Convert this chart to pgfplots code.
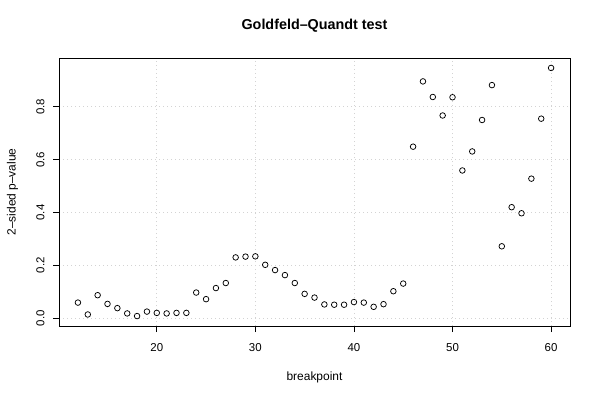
\documentclass[border=0pt]{standalone}
\usepackage{pgfplots}
\pgfplotsset{compat=1.18}
\usepackage{fontspec}
\setmainfont{Liberation Sans}
\definecolor{rgrid}{RGB}{211,211,211}
\begin{document}
\begin{tikzpicture}[x=1bp,y=1bp]
\path[use as bounding box] (0,0) rectangle (600,400);
\begin{axis}[
  at={(59bp,74bp)}, anchor=south west,
  scale only axis, width=511bp, height=268bp,
  xmin=10.08, xmax=61.92, ymin=-0.0296, ymax=0.9846,
  xtick={20,30,40,50,60},
  ytick={0,0.2,0.4,0.6,0.8},
  /pgf/number format/assume math mode=true,
  yticklabel style={rotate=90, anchor=south, /pgf/number format/fixed, /pgf/number format/fixed zerofill, /pgf/number format/precision=1},
  xticklabel style={anchor=north},
  ticklabel style={font=\fontsize{11.5}{13}\selectfont},
  xticklabel shift=8bp, yticklabel shift=5bp,
  tick align=outside, tick pos=left, major tick length=6bp,
  tick style={black, line width=0.8bp},
  axis line style={black, line width=0.8bp},
  grid=major, major grid style={rgrid, line width=0.8bp, dash pattern=on 1bp off 3bp},
  title={\bfseries Goldfeld–Quandt test},
  title style={at={(axis description cs:0.5,1)}, anchor=base, yshift=22.5bp, font=\fontsize{14.4}{17}\selectfont},
  xlabel={breakpoint},
  xlabel style={at={(axis description cs:0.5,0)}, anchor=base, yshift=-54bp, font=\fontsize{12}{14}\selectfont},
  ylabel={2–sided p–value},
  ylabel style={at={(axis description cs:0,0.5)}, anchor=base, yshift=43.5bp, font=\fontsize{12}{14}\selectfont},
]
\addplot[only marks, mark=o, mark size=2.8bp, mark options={line width=0.75bp, black}] coordinates {
(12,0.059) (13,0.014) (14,0.087) (15,0.054) (16,0.038) (17,0.018) (18,0.008)
(19,0.025) (20,0.020) (21,0.018) (22,0.020) (23,0.020) (24,0.097) (25,0.072)
(26,0.114) (27,0.133) (28,0.230) (29,0.233) (30,0.234) (31,0.202) (32,0.182)
(33,0.163) (34,0.133) (35,0.092) (36,0.078) (37,0.052) (38,0.051) (39,0.051)
(40,0.061) (41,0.059) (42,0.043) (43,0.053) (44,0.102) (45,0.131) (46,0.649)
(47,0.896) (48,0.837) (49,0.767) (50,0.836) (51,0.559) (52,0.631) (53,0.750)
(54,0.882) (55,0.272) (56,0.420) (57,0.397) (58,0.528) (59,0.755) (60,0.947)
};
\end{axis}
\end{tikzpicture}
\end{document}
